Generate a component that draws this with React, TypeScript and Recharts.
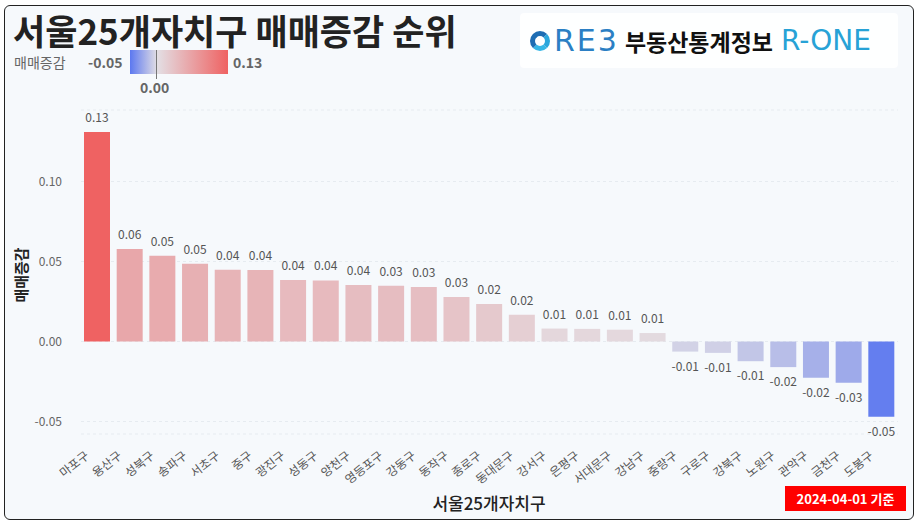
import { Bar, BarChart, CartesianGrid, Cell, LabelList, XAxis, YAxis } from "recharts";

const districts = [
  "마포구", "용산구", "성북구", "송파구", "서초구", "중구", "광진구", "성동구", "양천구",
  "영등포구", "강동구", "동작구", "종로구", "동대문구", "강서구", "은평구", "서대문구",
  "강남구", "중랑구", "구로구", "강북구", "노원구", "관악구", "금천구", "도봉구",
];

const changes = [
  0.131, 0.0578, 0.0536, 0.0486, 0.0449, 0.0447, 0.0384, 0.0382, 0.0353,
  0.0349, 0.0341, 0.0278, 0.0234, 0.0167, 0.0081, 0.0079, 0.0074,
  0.0053, -0.0063, -0.0071, -0.0123, -0.016, -0.0226, -0.0257, -0.047,
];

const yTicks = [-0.05, 0, 0.05, 0.1];
const colorMin = -0.05;
const colorMax = 0.13;

const data = districts.map((name, i) => ({ name, value: changes[i] }));

const FONT = "'Noto Sans CJK KR', 'Noto Sans', sans-serif";
const NEG = [92, 120, 240];
const MID = [227, 223, 228];
const POS = [239, 98, 98];

function mix(a: number[], b: number[], t: number) {
  const c = a.map((v, i) => Math.round(v + (b[i] - v) * t));
  return `rgb(${c[0]}, ${c[1]}, ${c[2]})`;
}

function barColor(v: number) {
  if (v >= 0) return mix(MID, POS, Math.min(v / colorMax, 1));
  return mix(MID, NEG, Math.min(v / colorMin, 1));
}

function ValueLabel(props: any) {
  const x = Number(props.x);
  const y = Number(props.y);
  const w = Number(props.width);
  const h = Number(props.height);
  const v = Number(props.value);
  const top = Math.min(y, y + h);
  const bottom = Math.max(y, y + h);
  return (
    <text
      x={x + w / 2}
      y={v >= 0 ? top - 10 : bottom + 19}
      textAnchor="middle"
      fontSize={12}
      fill="#555"
      fontFamily={FONT}
    >
      {v.toFixed(2)}
    </text>
  );
}

function DistrictTick(props: any) {
  const { x, y, payload } = props;
  return (
    <g transform={`translate(${x - 10},${y + 20})`}>
      <text
        textAnchor="end"
        transform="rotate(-38)"
        fontSize={12}
        fill="#555"
        fontFamily={FONT}
        dy="0.35em"
      >
        {payload.value}
      </text>
    </g>
  );
}

export default function App() {
  return (
    <div
      style={{
        position: "absolute",
        left: 0,
        top: 0,
        width: 920,
        height: 524,
        background: "#fff",
        fontFamily: FONT,
      }}
    >
      <div
        style={{
          position: "absolute",
          left: 4,
          top: 5,
          width: 908,
          height: 513,
          border: "1.5px solid #222",
          borderRadius: 6,
          background: "#f6f9fc",
        }}
      />
      <div style={{ position: "absolute", left: 0, top: 0 }}>
        <BarChart
          width={920}
          height={524}
          data={data}
          margin={{ top: 110, right: 22, bottom: 30, left: 16 }}
        >
          <CartesianGrid vertical={false} stroke="#e6ebf0" strokeDasharray="3 3" />
          <XAxis
            dataKey="name"
            interval={0}
            height={60}
            tickLine={false}
            axisLine={false}
            tickSize={0}
            tickMargin={0}
            tick={<DistrictTick />}
          />
          <YAxis
            width={65}
            domain={[-0.0578, 0.1447]}
            ticks={yTicks}
            allowDataOverflow
            tickFormatter={(v: number) => v.toFixed(2)}
            tickLine={false}
            axisLine={false}
            tickSize={6}
            tickMargin={13}
            tick={{ fill: "#666", fontSize: 12, fontFamily: FONT }}
          />
          <Bar dataKey="value" barSize={26} isAnimationActive={false}>
            {data.map((d) => (
              <Cell key={d.name} fill={barColor(d.value)} />
            ))}
            <LabelList dataKey="value" content={<ValueLabel />} />
          </Bar>
        </BarChart>
      </div>

      <div
        style={{
          position: "absolute",
          left: 13,
          top: 12,
          fontSize: 35,
          fontWeight: 700,
          color: "#222",
          whiteSpace: "nowrap",
          lineHeight: "36px",
        }}
      >
        서울25개자치구 매매증감 순위
      </div>

      <div style={{ position: "absolute", left: 14, top: 53, fontSize: 14, color: "#666", lineHeight: "18px" }}>
        매매증감
      </div>
      <div style={{ position: "absolute", left: 88, top: 53, fontSize: 14, fontWeight: 700, color: "#666", lineHeight: "18px" }}>
        -0.05
      </div>
      <div
        style={{
          position: "absolute",
          left: 130,
          top: 50,
          width: 98,
          height: 24,
          background: `linear-gradient(to right, rgb(${NEG.join(",")}) 0%, rgb(${MID.join(",")}) 27.8%, rgb(${POS.join(",")}) 100%)`,
        }}
      />
      <div style={{ position: "absolute", left: 156, top: 50, width: 1, height: 29, background: "#777" }} />
      <div style={{ position: "absolute", left: 233, top: 53, fontSize: 14, fontWeight: 700, color: "#666", lineHeight: "18px" }}>
        0.13
      </div>
      <div style={{ position: "absolute", left: 140, top: 78, fontSize: 14, fontWeight: 700, color: "#666", lineHeight: "18px" }}>
        0.00
      </div>

      <div
        style={{
          position: "absolute",
          left: 520,
          top: 13,
          width: 378,
          height: 55,
          background: "rgba(255,255,255,0.9)",
          borderRadius: 4,
          display: "flex",
          alignItems: "center",
          whiteSpace: "nowrap",
        }}
      >
        <div
          style={{
            marginLeft: 10,
            width: 20,
            height: 20,
            borderRadius: "50%",
            border: "5px solid #1e6db3",
            borderRightColor: "#2aa6dc",
            borderBottomColor: "#35b6e6",
            boxSizing: "border-box",
          }}
        />
        <span
          style={{
            marginLeft: 4,
            fontSize: 30,
            color: "#2b7fc4",
            fontFamily: "'DejaVu Sans', sans-serif",
            letterSpacing: 2,
            lineHeight: "30px",
          }}
        >
          RE3
        </span>
        <span style={{ marginLeft: 6, fontSize: 23, fontWeight: 700, color: "#111", lineHeight: "30px" }}>
          부동산통계정보
        </span>
        <span
          style={{
            marginLeft: 8,
            fontSize: 28,
            color: "#27a2d6",
            fontFamily: "'DejaVu Sans', sans-serif",
            lineHeight: "30px",
          }}
        >
          R-ONE
        </span>
      </div>

      <div
        style={{
          position: "absolute",
          left: 10,
          top: 265,
          width: 20,
          height: 20,
        }}
      >
        <div
          style={{
            position: "absolute",
            left: 10,
            top: 10,
            transform: "translate(-50%, -50%) rotate(-90deg)",
            fontSize: 15,
            fontWeight: 700,
            color: "#222",
            whiteSpace: "nowrap",
          }}
        >
          매매증감
        </div>
      </div>

      <div
        style={{
          position: "absolute",
          left: 489,
          top: 492,
          transform: "translateX(-50%)",
          fontSize: 17,
          fontWeight: 500,
          color: "#222",
          whiteSpace: "nowrap",
          lineHeight: "22px",
        }}
      >
        서울25개자치구
      </div>

      <div
        style={{
          position: "absolute",
          left: 785,
          top: 486,
          width: 121,
          height: 25,
          background: "#f00",
          color: "#fff",
          fontSize: 13,
          fontWeight: 700,
          display: "flex",
          alignItems: "center",
          justifyContent: "center",
          whiteSpace: "nowrap",
        }}
      >
        2024-04-01 기준
      </div>
    </div>
  );
}
